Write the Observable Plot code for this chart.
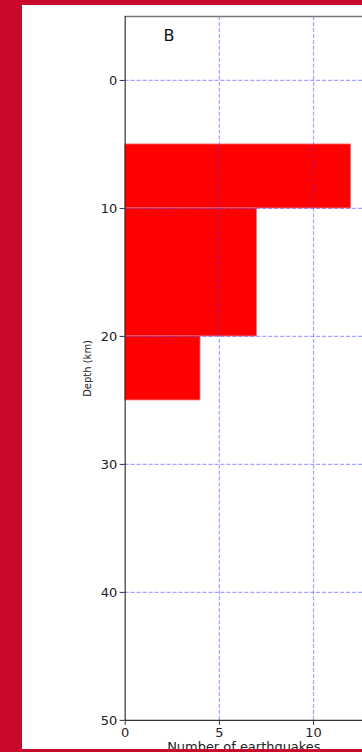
<!DOCTYPE html>
<html>
<head>
<meta charset="utf-8">
<script src="https://cdn.jsdelivr.net/npm/d3@7"></script>
<script src="https://cdn.jsdelivr.net/npm/@observablehq/plot@0.6"></script>
<style>
  html, body { margin: 0; padding: 0; width: 362px; height: 752px; overflow: hidden; background: #c8092b; }
  #panel { position: absolute; left: 22px; top: 5px; width: 340px; height: 744px; background: #fff; overflow: hidden; }
  #panel svg { display: block; }
</style>
</head>
<body>
<div id="panel"></div>
<script>
const depthTop = [5, 10, 20];
const depthBottom = [10, 20, 25];
const counts = [12, 7, 4];
const yTicks = [0, 10, 20, 30, 40, 50];
const xTicks = [0, 5, 10];
const yGrid = [0, 10, 20, 30, 40];
const xGrid = [5, 10];
const panelLabel = "B";
const xLabel = "Number of earthquakes";
const yLabel = "Depth (km)";

const bins = depthTop.map((d, i) => ({y1: d, y2: depthBottom[i], n: counts[i]}));
const gridStyle = {stroke: "#3030ff", strokeOpacity: 0.45, strokeDasharray: "4,2", strokeWidth: 1.2};

const chart = Plot.plot({
  width: 341,
  height: 744,
  marginLeft: 103,
  marginRight: 0,
  marginTop: 11,
  marginBottom: 27,
  style: {fontFamily: "DejaVu Sans", fontSize: "13px", background: "white", color: "#222", overflow: "visible"},
  x: {domain: [0, 12.6]},
  y: {domain: [-5, 50], reverse: true},
  marks: [
    Plot.rectX(bins, {x1: 0, x2: "n", y1: "y1", y2: "y2", fill: "red", stroke: "#ff7070", strokeWidth: 0.8}),
    Plot.ruleY(yGrid, gridStyle),
    Plot.ruleX(xGrid, gridStyle),
    Plot.ruleY([-5], {stroke: "#777", strokeWidth: 1.5}),
    Plot.ruleY([50], {stroke: "#333", strokeWidth: 1.2}),
    Plot.ruleX([0], {stroke: "#333", strokeWidth: 1.2}),
    Plot.axisY(yTicks, {tickSize: 5, tickPadding: 3, label: null, fontSize: 13, stroke: "#333"}),
    Plot.axisX(xTicks, {tickSize: 5, tickPadding: 2, label: null, fontSize: 13, stroke: "#333"}),
    Plot.text([panelLabel], {frameAnchor: "top-left", dx: 44, dy: 19, text: d => d, fontSize: 16, fill: "#111", lineAnchor: "middle", textAnchor: "middle"}),
    Plot.text([yLabel], {frameAnchor: "left", dx: -38, rotate: -90, text: d => d, fontSize: 10, fill: "#222", textAnchor: "middle", lineAnchor: "middle"}),
    Plot.text([xLabel], {frameAnchor: "bottom", dy: 21.5, text: d => d, fontSize: 13, fill: "#222", textAnchor: "middle", lineAnchor: "top"})
  ]
});
document.getElementById("panel").appendChild(chart);
</script>
</body>
</html>
